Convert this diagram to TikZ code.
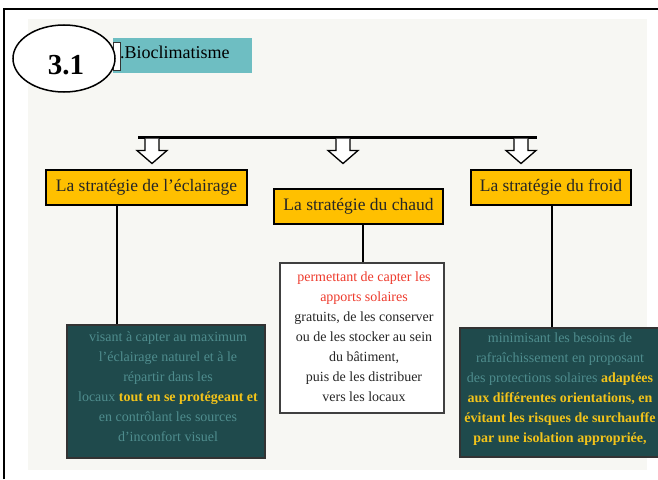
\documentclass[tikz,border=0pt]{standalone}
\usepackage{fontspec}
\setmainfont{Liberation Serif}
\usetikzlibrary{shapes.geometric}
\definecolor{slidebg}{HTML}{F7F7F3}
\definecolor{titleteal}{HTML}{6EBEC2}
\definecolor{stratorange}{HTML}{FFC000}
\definecolor{darkteal}{HTML}{1F4A4C}
\definecolor{mutedteal}{HTML}{4F8D8E}
\definecolor{hiyellow}{HTML}{F2C31A}
\definecolor{redtext}{HTML}{EE3A2C}
\begin{document}
\begin{tikzpicture}[x=1pt,y=-1pt,
  strat/.style={draw=black, line width=1.8pt, fill=stratorange, inner sep=0pt,
    font=\fontsize{17.5}{20}\selectfont, text=black!85},
  darkbox/.style={draw=black!80, line width=1.5pt, fill=darkteal, inner sep=0pt},
  whitebox/.style={draw=black!75, line width=1.5pt, fill=white, inner sep=0pt},
  desc/.style={align=center, inner sep=0pt, font=\fontsize{14}{20}\selectfont},
  link/.style={line width=2.6pt, black},
  hollowdown/.pic={\draw[line width=1.3pt, fill=white, line join=miter]
     (-7,0) -- (-7,12) -- (-15,12) -- (0,25) -- (15,12) -- (7,12) -- (7,0);}
]
\useasboundingbox (0,0) rectangle (658,479);
% page and slide background
\fill[white] (0,0) rectangle (658,479);
\fill[slidebg] (28,19) rectangle (647,470);
\draw[line width=1.6pt] (4,479) -- (4,9) -- (658,9);
% title
\node[fill=titleteal, minimum width=139, minimum height=35, inner sep=0pt] (titlebar) at (182.5,55.5) {};
\node[draw=black!80, line width=0.6pt, fill=white, minimum width=7, minimum height=28, inner sep=0pt] (titlesq) at (116.5,56) {};
\node[anchor=west, inner sep=0pt, font=\fontsize{18}{20}\selectfont] (titletext) at (120,52) {.Bioclimatisme};
\node[ellipse, draw=black, line width=1.5pt, fill=white, minimum width=102, minimum height=67, inner sep=0pt] (num) at (64,58.5) {};
\node[font=\fontsize{29}{30}\selectfont\bfseries, inner sep=0pt] (numtext) at (66,65) {3.1};
% bar and arrows
\coordinate (barL) at (138,137);
\coordinate (barR) at (537,137);
\draw[link, line width=3pt] (barL) -- (barR);
\pic at (152,138.5) {hollowdown};
\pic at (343,138.5) {hollowdown};
\pic at (521,138.5) {hollowdown};
% strategy boxes
\node[strat, minimum width=201, minimum height=35] (eclair) at (146.5,187.5) {La stratégie de l’éclairage};
\node[strat, minimum width=169, minimum height=35] (chaud) at (358.5,206.5) {La stratégie du chaud};
\node[strat, minimum width=160, minimum height=35] (froid) at (551,187.5) {La stratégie du froid};
% description boxes
\node[darkbox, minimum width=198, minimum height=133] (eclairdesc) at (166,391.5) {};
\node[whitebox, minimum width=164, minimum height=150] (chauddesc) at (362,338) {};
\node[darkbox, minimum width=200, minimum height=129] (froiddesc) at (560,392.5) {};
% connectors
\coordinate (xl) at (117,0);
\coordinate (xm) at (363,0);
\coordinate (xr) at (552,0);
\draw[link] (eclair.south -| xl) -- (eclairdesc.north -| xl);
\draw[link] (chaud.south -| xm) -- (chauddesc.north -| xm);
\draw[link] (froid.south -| xr) -- (froiddesc.north -| xr);
% texts
\node[desc, text=mutedteal] (eclairtext) at (168,387) {visant à capter au maximum\\
l’éclairage naturel et à le\\
répartir dans les\\
locaux {\color{hiyellow}\bfseries tout en se protégeant et}\\
en contrôlant les sources\\
d’inconfort visuel};
\node[desc, text=black!85] (chaudtext) at (364,337) {{\color{redtext}permettant de capter les}\\
{\color{redtext}apports solaires}\\
gratuits, de les conserver\\
ou de les stocker au sein\\
du bâtiment,\\
puis de les distribuer\\
vers les locaux};
\node[desc, text=mutedteal] (froidtext) at (560,389.5) {minimisant les besoins de\\
rafraîchissement en proposant\\
des protections solaires {\color{hiyellow}\bfseries adaptées}\\
{\color{hiyellow}\bfseries aux différentes orientations, en}\\
{\color{hiyellow}\bfseries évitant les risques de surchauffe}\\
{\color{hiyellow}\bfseries par une isolation appropriée,}};
\end{tikzpicture}
\end{document}
